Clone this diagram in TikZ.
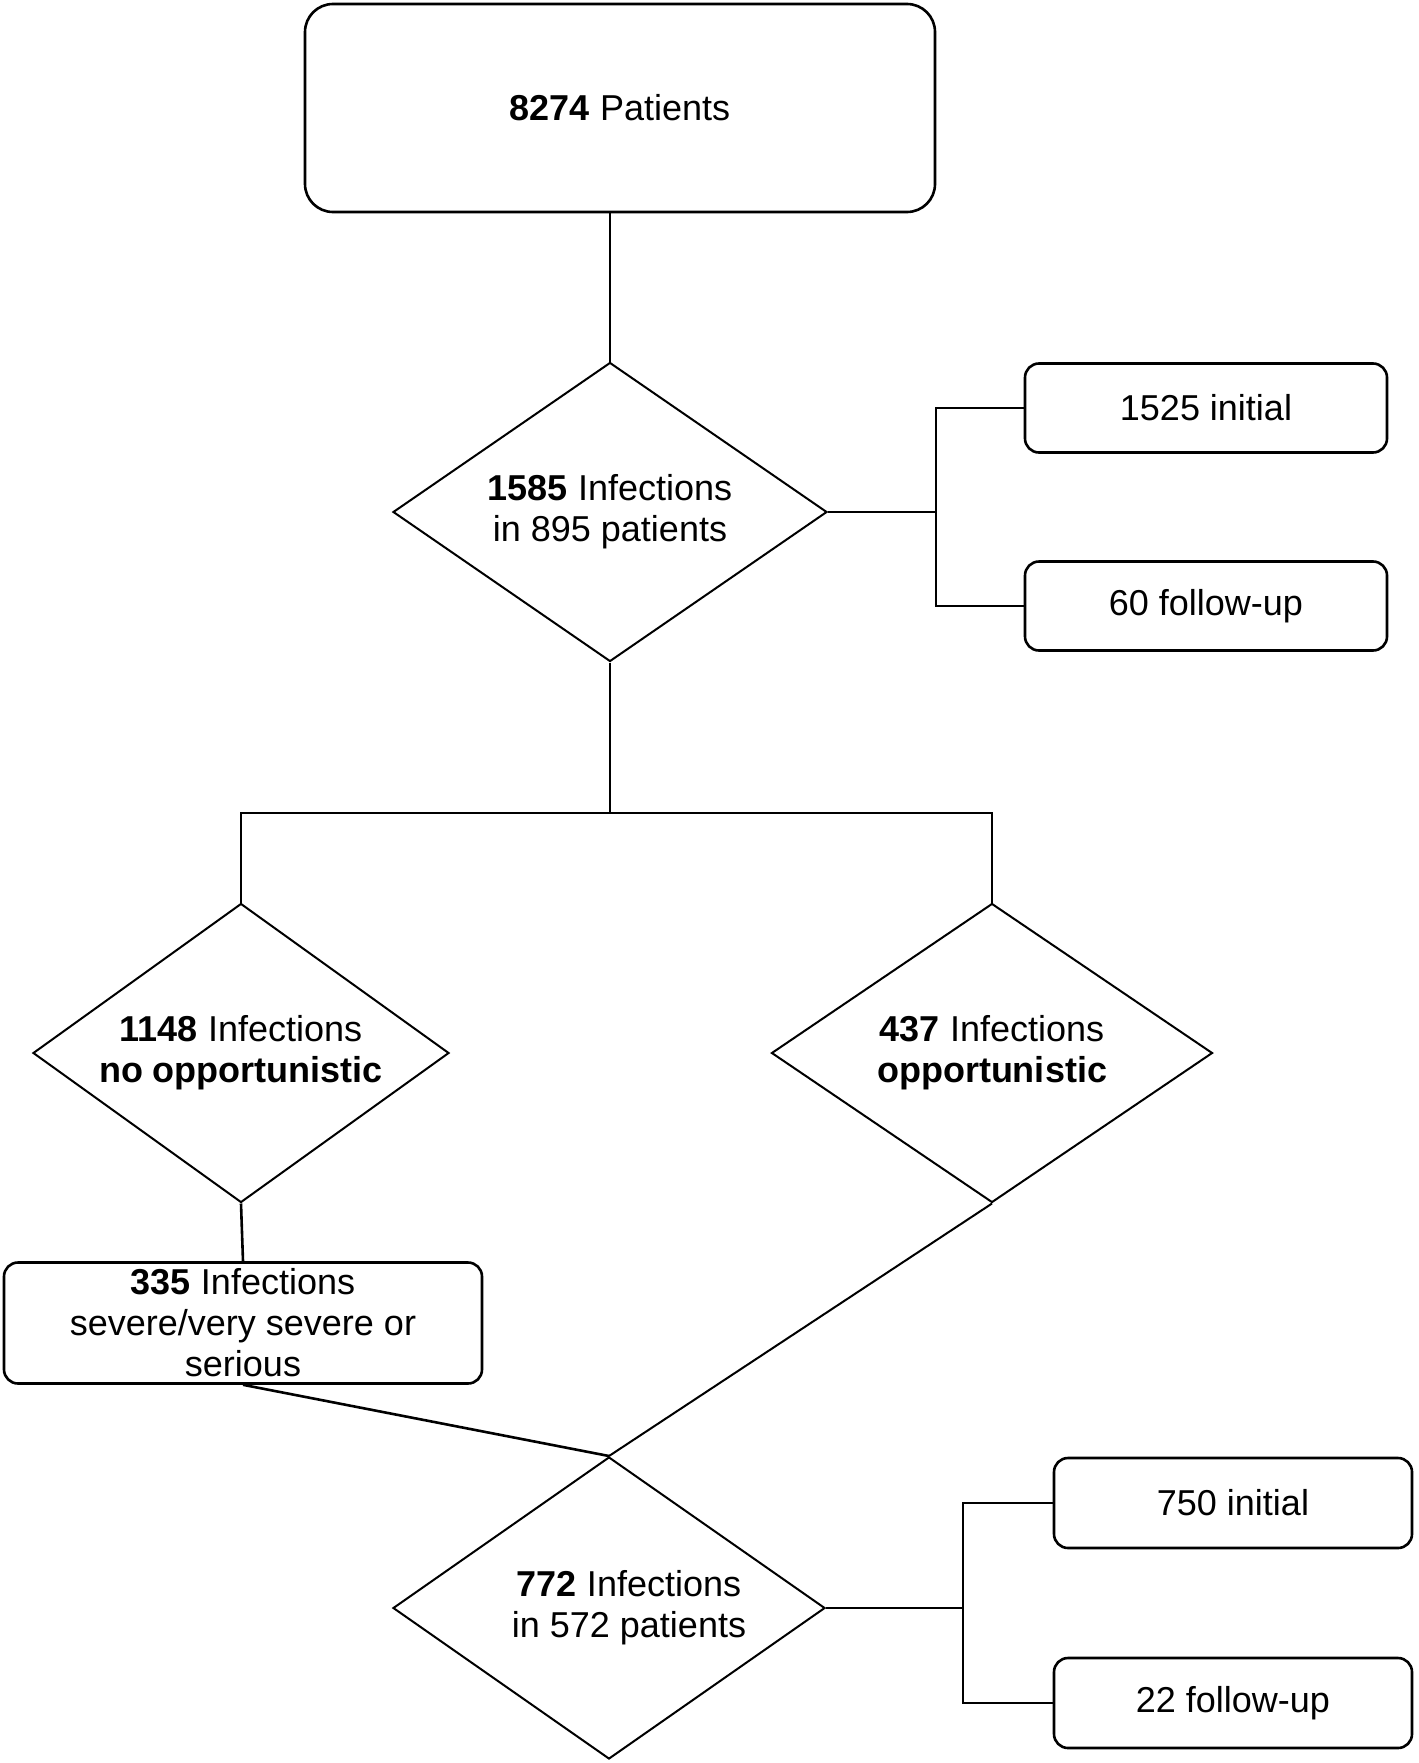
\documentclass[tikz,border=0pt]{standalone}
\usepackage{fontspec}
\setmainfont{Liberation Sans}
\usetikzlibrary{shapes.geometric}
\begin{document}
\begin{tikzpicture}[x=1pt,y=-1pt,
  every node/.style={font=\fontsize{36}{41}\selectfont, align=center, inner sep=0pt},
  rbox/.style={draw, line width=2.6pt, rectangle, rounded corners=14pt},
  dmd/.style={draw, line width=2pt, diamond, shape aspect=1.45},
  conn/.style={line width=2.6pt}]
\useasboundingbox[fill=white] (0,0) rectangle (1418,1763);

% boxes
\node[rbox, rounded corners=28pt, minimum width=630pt, minimum height=208pt] (top) at (620,108) {\textbf{8274} Patients};
\node[rbox, minimum width=362pt, minimum height=89pt] (b1) at (1206,408) {1525 initial};
\node[rbox, minimum width=362pt, minimum height=89pt] (b2) at (1206,606) {60 follow-up};
\node[rbox, minimum width=478pt, minimum height=121pt] (b335) at (243,1323) {\textbf{335} Infections\\severe/very severe or\\serious};
\node[rbox, minimum width=358pt, minimum height=90pt] (b750) at (1233,1503) {750 initial};
\node[rbox, minimum width=358pt, minimum height=90pt] (b22) at (1233,1703) {22 follow-up};

% diamonds
\node[dmd, minimum width=434pt, minimum height=299pt] (d1) at (610,512) {\textbf{1585} Infections\\in 895 patients};
\node[dmd, shape aspect=1.39, minimum width=416pt, minimum height=299pt] (dL) at (241,1053) {\textbf{1148} Infections\\\textbf{no opportunistic}};
\node[dmd, shape aspect=1.47, minimum width=441pt, minimum height=299pt] (dR) at (992,1053) {\textbf{437} Infections\\\textbf{opportunistic}};
\node[dmd, minimum width=432pt, minimum height=302pt,
  label={[xshift=20pt, align=center]center:{\textbf{772} Infections\\in 572 patients}}] (d3) at (609,1608) {};

% connectors
\draw[conn] (top.south -| d1.north) -- (d1.north);
\coordinate (br1) at (936,512);
\draw[conn] (d1.east) -- (br1);
\draw[conn] (b1.west) -| (br1) |- (b2.west);
\coordinate (split) at (610,813);
\draw[conn] (d1.south) -- (split);
\draw[conn] (dL.north) -- (dL.north |- split) -- (dR.north |- split) -- (dR.north);
\draw[conn] (dL.south) -- (b335.north);
\draw[conn] (b335.south) -- (d3.north);
\draw[line width=2pt] (dR.south) -- (d3.north);
\coordinate (br2) at (963,1608);
\draw[conn] (d3.east) -- (br2);
\draw[conn] (b750.west) -| (br2) |- (b22.west);
\end{tikzpicture}
\end{document}
